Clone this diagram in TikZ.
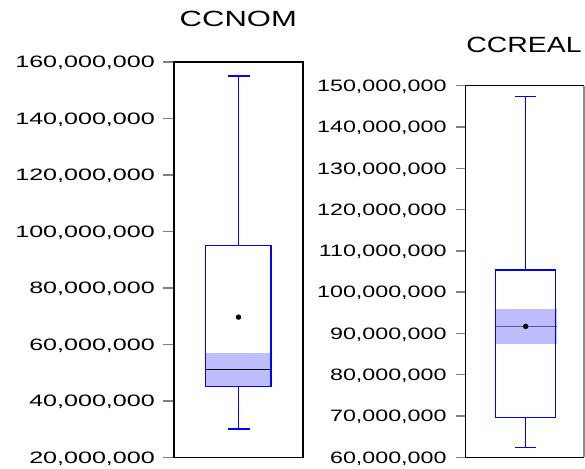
\documentclass[tikz,border=0pt]{standalone}
\usepackage{fontspec}
\setmainfont{Liberation Sans}
\usepackage{graphicx}
\definecolor{bandblue}{RGB}{190,190,255}
\definecolor{medgray}{RGB}{90,90,125}
\definecolor{boxblue}{RGB}{0,0,255}
\newcommand{\wlbl}[2]{\scalebox{#1}[1]{#2}}

\begin{document}
\begin{tikzpicture}[x=1pt,y=1pt,
  frame/.style={draw=black,line width=1.4pt},
  tickmark/.style={draw=black!50,line width=1.4pt},
  ticklbl/.style={anchor=east,inner sep=0pt,text depth=0pt,font=\fontsize{16.5}{16.5}\selectfont},
  whisk/.style={color=boxblue,line width=1.3pt},
  band/.style={fill=bandblue},
  meandot/.style={circle,fill=black,inner sep=0pt,minimum size=5.5pt},
  title/.style={inner sep=0pt,text depth=0pt,font=\fontsize{22}{22}\selectfont}]
\fill[white] (0,0) rectangle (585,468);
\useasboundingbox (0,0) rectangle (585,468);

\node[title] (tnom) at (238.3,449.3) {\wlbl{1.41}{CCNOM}};
\node[title] (treal) at (524,423.5) {\wlbl{1.29}{CCREAL}};

% CCNOM panel
\begin{scope}[y=2.825pt,yshift=-46pt]
\foreach \v in {20,40,...,160} {
  \draw[tickmark] (163,\v) -- (174,\v);
  \node[ticklbl] (l\v) at (155,\v) {\wlbl{1.52}{\v,000,000}};
}
\fill[band] (205.7,45.2) rectangle (271.5,57.1);
\draw[black,line width=0.8pt] (205.7,51.2) -- (271.5,51.2);
\draw[whisk] (238.5,95) -- (238.5,155) (227.5,155) -- (249.5,155);
\draw[whisk] (238.5,45.2) -- (238.5,30.1) (227.5,30.1) -- (249.5,30.1);
\draw[whisk] (205.7,45.2) -- (271,45.2) -- (271,95) -- (205.7,95) -- cycle;
\node[meandot] (meannom) at (238.5,69.7) {};
\draw[frame] (174,20) rectangle (303,160);
\end{scope}

% CCREAL panel
\begin{scope}[y=4.129pt,yshift=-237.05pt]
\foreach \v in {60,70,...,150} {
  \draw[tickmark] (456,\v) -- (465.7,\v);
  \node[ticklbl] (r\v) at (446.7,\v) {\wlbl{1.41}{\v,000,000}};
}
\fill[band] (495.7,87.5) rectangle (556.5,95.9);
\draw[medgray,line width=1.2pt] (495.7,91.6) -- (556.5,91.6);
\draw[whisk] (525.7,105.4) -- (525.7,147.3) (515,147.3) -- (536,147.3);
\draw[whisk] (525.7,69.7) -- (525.7,62.4) (515,62.4) -- (536,62.4);
\draw[whisk] (495.7,69.7) -- (555.7,69.7) -- (555.7,105.4) -- (495.7,105.4) -- cycle;
\node[meandot] (meanreal) at (525.7,91.7) {};
\draw[frame] (584,150) -- (465.7,150) -- (465.7,60) -- (584,60);
\draw[black!45,line width=1.4pt] (584,60) -- (584,150);
\end{scope}
\end{tikzpicture}
\end{document}
